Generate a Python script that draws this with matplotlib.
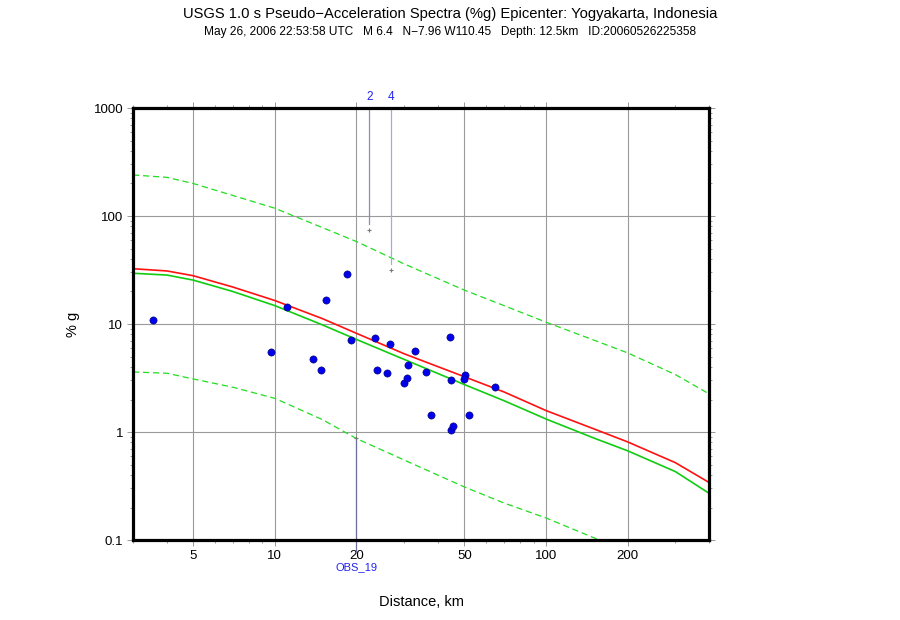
import matplotlib.pyplot as plt
import matplotlib.ticker as mticker
import numpy as np

plt.rcParams['font.family'] = ['Liberation Sans', 'DejaVu Sans']

# distance grid for the model curves
dist = [3, 4, 5, 7, 10, 15, 20, 30, 50, 70, 100, 150, 200, 300, 400]
median_red = [32.5, 31, 28, 22, 16.5, 11.2, 8.2, 5.3, 3.25, 2.35, 1.58, 1.07, 0.81, 0.52, 0.34]
median_green = [29.5, 28.4, 25.5, 20, 14.8, 9.8, 7.2, 4.7, 2.75, 1.95, 1.32, 0.88, 0.67, 0.43, 0.27]
upper_green = [240, 228, 200, 155, 118, 78, 58, 36, 20.6, 14.8, 10.4, 7.1, 5.4, 3.4, 2.25]
lower_green = [3.6, 3.5, 3.1, 2.6, 2.05, 1.3, 0.87, 0.55, 0.31, 0.22, 0.16, 0.105, 0.08, 0.05, 0.033]

# observed stations
obs_dist = [3.54, 9.70, 11.1, 13.85, 14.8, 15.5, 18.4, 19.1, 23.4, 23.9, 25.9, 26.6, 29.9,
            30.6, 31.0, 33.0, 36.2, 37.8, 44.4, 44.6, 44.8, 45.5, 50.2, 50.0, 52.1, 65.1]
obs_val = [10.96, 5.47, 14.4, 4.77, 3.75, 16.7, 29.2, 7.06, 7.46, 3.75, 3.50, 6.49, 2.83,
           3.16, 4.20, 5.66, 3.59, 1.44, 7.58, 3.05, 1.04, 1.13, 3.35, 3.08, 1.43, 2.61]

# flagged stations (label, distance, value)
flag_labels = ['2', '4']
flag_dist = [22.3, 26.9]
flag_val = [74, 31.4]
flag_colors = ['#8c8cb4', '#a8a8e0']

obs19_label = 'OBS_19'
obs19_dist = 20
obs19_val = 0.875

fig = plt.figure(figsize=(9, 6.2), dpi=100)
ax = fig.add_axes([0.1478, 0.129, 0.6403, 0.6968])
ax.set_xscale('log')
ax.set_yscale('log')
ax.set_xlim(3, 400)
ax.set_ylim(0.1, 1000)

ax.xaxis.set_major_locator(mticker.FixedLocator([5, 10, 20, 50, 100, 200]))
ax.xaxis.set_major_formatter(mticker.FixedFormatter(['5', '10', '20', '50', '100', '200']))
ax.xaxis.set_minor_locator(mticker.LogLocator(base=10, subs=np.arange(2, 10)))
ax.xaxis.set_minor_formatter(mticker.NullFormatter())
ax.yaxis.set_major_locator(mticker.FixedLocator([0.1, 1, 10, 100, 1000]))
ax.yaxis.set_major_formatter(mticker.FixedFormatter(['0.1', '1', '10', '100', '1000']))
ax.yaxis.set_minor_locator(mticker.LogLocator(base=10, subs=np.arange(2, 10)))
ax.yaxis.set_minor_formatter(mticker.NullFormatter())

ax.grid(True, which='major', color='#9a9a9a', linewidth=0.8)
ax.tick_params(which='both', direction='out', top=True, right=True, color='#999999',
               labelsize=9.5, width=0.7)
ax.tick_params(which='major', length=4)
ax.tick_params(axis='y', which='major', pad=3)
ax.tick_params(axis='x', which='major', pad=3)
ax.tick_params(which='minor', length=2.5)
for s in ax.spines.values():
    s.set_linewidth(2.3)

ax.plot(dist, upper_green, color='#22dd22', linewidth=0.9, dashes=(5, 3))
ax.plot(dist, lower_green, color='#22dd22', linewidth=0.9, dashes=(5, 3))
ax.plot(dist, median_green, color='#11cc11', linewidth=1.2)
ax.plot(dist, median_red, color='#ff1111', linewidth=1.2)

ax.plot(obs_dist, obs_val, 'o', color='#0000ee', markersize=5.2,
        markeredgecolor='#000066', markeredgewidth=0.4, zorder=5)

for lab, d, v, c in zip(flag_labels, flag_dist, flag_val, flag_colors):
    ax.plot([d, d], [1000, v * 1.15], color=c, linewidth=0.9, clip_on=False)
    ax.plot(d, v, '+', color='#777777', markersize=3, markeredgewidth=0.8)
    ax.text(d, 1.025, lab, transform=ax.get_xaxis_transform(), color='#2222ee',
            ha='center', va='center', fontsize=8.5)

ax.plot([obs19_dist, obs19_dist], [obs19_val, 0.078], color='#7070a0', linewidth=0.9,
        clip_on=False)
ax.plot(obs19_dist, obs19_val, '+', color='#777777', markersize=3, markeredgewidth=0.8)
ax.text(obs19_dist, -0.063, obs19_label, transform=ax.get_xaxis_transform(),
        color='#2222ee', ha='center', va='center', fontsize=8)

ax.set_xlabel('Distance, km', fontsize=10.5, labelpad=24)
ax.set_ylabel('% g', fontsize=10.5, labelpad=10)

fig.text(0.5, 0.977, 'USGS 1.0 s Pseudo\u2212Acceleration Spectra (%g) Epicenter: Yogyakarta, Indonesia',
         ha='center', va='center', fontsize=10.6)
fig.text(0.5, 0.949, 'May 26, 2006 22:53:58 UTC   M 6.4   N\u22127.96 W110.45   Depth: 12.5km   ID:20060526225358',
         ha='center', va='center', fontsize=8.6)

fig.savefig('out.png', dpi=100)
